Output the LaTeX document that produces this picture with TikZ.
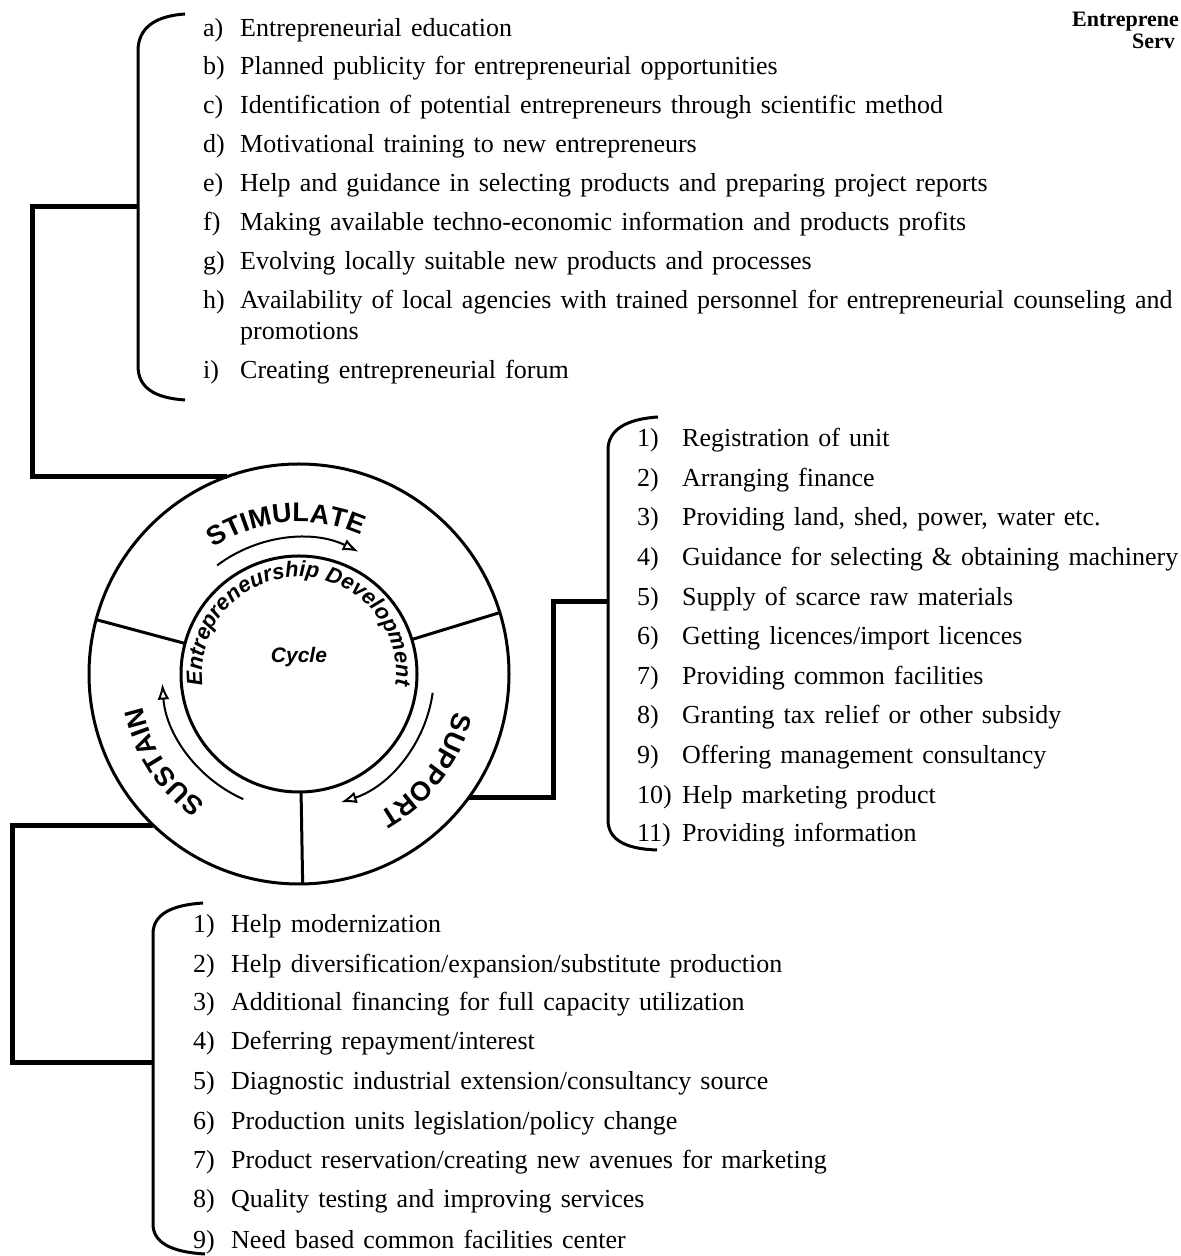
\documentclass[tikz,border=0pt]{standalone}
\usepackage{fontspec}
\setmainfont[WordSpace=1.4]{Liberation Serif}
\setsansfont{Liberation Sans}
\usetikzlibrary{decorations.text,arrows.meta}

\tikzset{
  itemtxt/.style={anchor=base west,inner sep=0pt,font=\fontsize{26}{30}\selectfont},
  headtxt/.style={anchor=base west,inner sep=0pt,font=\fontsize{22}{26}\selectfont\bfseries},
  link/.style={line width=5pt},
  brace/.style={line width=3pt},
  ring/.style={line width=3pt},
  turn/.style={line width=2pt,-{Latex[open,length=16pt,width=12pt]}},
}

\begin{document}
\begin{tikzpicture}[x=1pt,y=1pt]
\useasboundingbox (0,0) rectangle (1181,1256);

% the cycle
\coordinate (ctr) at (299,582);
\draw[ring] (ctr) circle (210pt);
\draw[ring] (ctr) circle (118pt);
\draw[ring] ([shift={(165:118pt)}]ctr) -- ([shift={(165:210pt)}]ctr);
\draw[ring] ([shift={(17:118pt)}]ctr) -- ([shift={(17:210pt)}]ctr);
\draw[ring] ([shift={(271:118pt)}]ctr) -- ([shift={(271:210pt)}]ctr);

\draw[turn] ([shift={(127:136pt)}]ctr) arc[start angle=127,end angle=64,radius=136pt];
\draw[turn] ([shift={(-8:135pt)}]ctr) arc[start angle=-8,end angle=-72,radius=135pt];
\draw[turn] ([shift={(246:137pt)}]ctr) arc[start angle=246,end angle=184,radius=137pt];

\path[decorate,decoration={text along path,text align=center,
  text={|\sffamily\bfseries\fontsize{27}{27}\selectfont|STIMULATE}}]
  ([shift={(180:152pt)}]ctr) arc[start angle=180,end angle=10,radius=152pt];
\path[decorate,decoration={text along path,text align=center,
  text={|\sffamily\bfseries\fontsize{27}{27}\selectfont|SUPPORT}}]
  ([shift={(30:160pt)}]ctr) arc[start angle=30,end angle=-104,radius=160pt];
\path[decorate,decoration={text along path,text align=center,
  text={|\sffamily\bfseries\fontsize{27}{27}\selectfont|SUSTAIN}}]
  ([shift={(280:160pt)}]ctr) arc[start angle=280,end angle=146,radius=160pt];
\path[decorate,decoration={text along path,text align=center,
  text={|\sffamily\bfseries\itshape\fontsize{22}{22}\selectfont|Entrepreneurship Development}}]
  ([shift={(200:97pt)}]ctr) arc[start angle=200,end angle=-20,radius=97pt];
\node[font=\sffamily\bfseries\itshape\fontsize{21}{24}\selectfont] (cyc) at (299,599) {Cycle};

% header (cut at the edge)
\node[headtxt] (hd1) at (1072,1229) {Entreprene};
\node[headtxt] (hd2) at (1132,1207) {Serv};

% stimulate list
\draw[brace] (185,1242) .. controls (155,1240) and (138,1228) .. (138,1205) -- (138,890) .. controls (138,868) and (155,858) .. (185,856);
\coordinate (jA) at (138,1049);
\coordinate (sA) at ([shift={(110:210pt)}]ctr);
\draw[link] (jA) -- ++(-106,0) |- (sA);

\node[itemtxt] (ia) at (203,1219) {\makebox[37pt][l]{a)}Entrepreneurial education};
\node[itemtxt] (ib) at (203,1181) {\makebox[37pt][l]{b)}Planned publicity for entrepreneurial opportunities};
\node[itemtxt] (ic) at (203,1142) {\makebox[37pt][l]{c)}Identification of potential entrepreneurs through scientific method};
\node[itemtxt] (id) at (203,1103) {\makebox[37pt][l]{d)}Motivational training to new entrepreneurs};
\node[itemtxt] (ie) at (203,1064) {\makebox[37pt][l]{e)}Help and guidance in selecting products and preparing project reports};
\node[itemtxt] (if) at (203,1025) {\makebox[37pt][l]{f)}Making available techno-economic information and products profits};
\node[itemtxt] (ig) at (203,986) {\makebox[37pt][l]{g)}Evolving locally suitable new products and processes};
\node[itemtxt] (ih) at (203,947) {\makebox[37pt][l]{h)}Availability of local agencies with trained personnel for entrepreneurial counseling and};
\node[itemtxt] (ih2) at (240,916) {promotions};
\node[itemtxt] (ii) at (203,877) {\makebox[37pt][l]{i)}Creating entrepreneurial forum};

% support list
\draw[brace] (658,839) .. controls (626,837) and (608,826) .. (608,806) -- (608,436) .. controls (608,416) and (626,407) .. (657,406);
\coordinate (jB) at (608,654);
\coordinate (sB) at ([shift={(-36:210pt)}]ctr);
\draw[link] (jB) -- ++(-55,0) |- (sB);

\node[itemtxt] (p1) at (637,809) {\makebox[45pt][l]{1)}Registration of unit};
\node[itemtxt] (p2) at (637,769) {\makebox[45pt][l]{2)}Arranging finance};
\node[itemtxt] (p3) at (637,730) {\makebox[45pt][l]{3)}Providing land, shed, power, water etc.};
\node[itemtxt] (p4) at (637,690) {\makebox[45pt][l]{4)}Guidance for selecting \& obtaining machinery};
\node[itemtxt] (p5) at (637,650) {\makebox[45pt][l]{5)}Supply of scarce raw materials};
\node[itemtxt] (p6) at (637,611) {\makebox[45pt][l]{6)}Getting licences/import licences};
\node[itemtxt] (p7) at (637,571) {\makebox[45pt][l]{7)}Providing common facilities};
\node[itemtxt] (p8) at (637,532) {\makebox[45pt][l]{8)}Granting tax relief or other subsidy};
\node[itemtxt] (p9) at (637,492) {\makebox[45pt][l]{9)}Offering management consultancy};
\node[itemtxt] (p10) at (637,452) {\makebox[45pt][l]{10)}Help marketing product};
\node[itemtxt] (p11) at (637,414) {\makebox[45pt][l]{11)}Providing information};

% sustain list
\draw[brace] (203,353) .. controls (172,351) and (153,342) .. (153,322) -- (153,32) .. controls (153,14) and (170,4) .. (205,2);
\coordinate (jC) at (153,193);
\coordinate (sC) at ([shift={(226:210pt)}]ctr);
\draw[link] (jC) -- ++(-141,0) |- (sC);

\node[itemtxt] (s1) at (193,323) {\makebox[38pt][l]{1)}Help modernization};
\node[itemtxt] (s2) at (193,283) {\makebox[38pt][l]{2)}Help diversification/expansion/substitute production};
\node[itemtxt] (s3) at (193,245) {\makebox[38pt][l]{3)}Additional financing for full capacity utilization};
\node[itemtxt] (s4) at (193,206) {\makebox[38pt][l]{4)}Deferring repayment/interest};
\node[itemtxt] (s5) at (193,166) {\makebox[38pt][l]{5)}Diagnostic industrial extension/consultancy source};
\node[itemtxt] (s6) at (193,126) {\makebox[38pt][l]{6)}Production units legislation/policy change};
\node[itemtxt] (s7) at (193,87) {\makebox[38pt][l]{7)}Product reservation/creating new avenues for marketing};
\node[itemtxt] (s8) at (193,48) {\makebox[38pt][l]{8)}Quality testing and improving services};
\node[itemtxt] (s9) at (193,8) {\makebox[38pt][l]{9)}Need based common facilities center};
\end{tikzpicture}
\end{document}
